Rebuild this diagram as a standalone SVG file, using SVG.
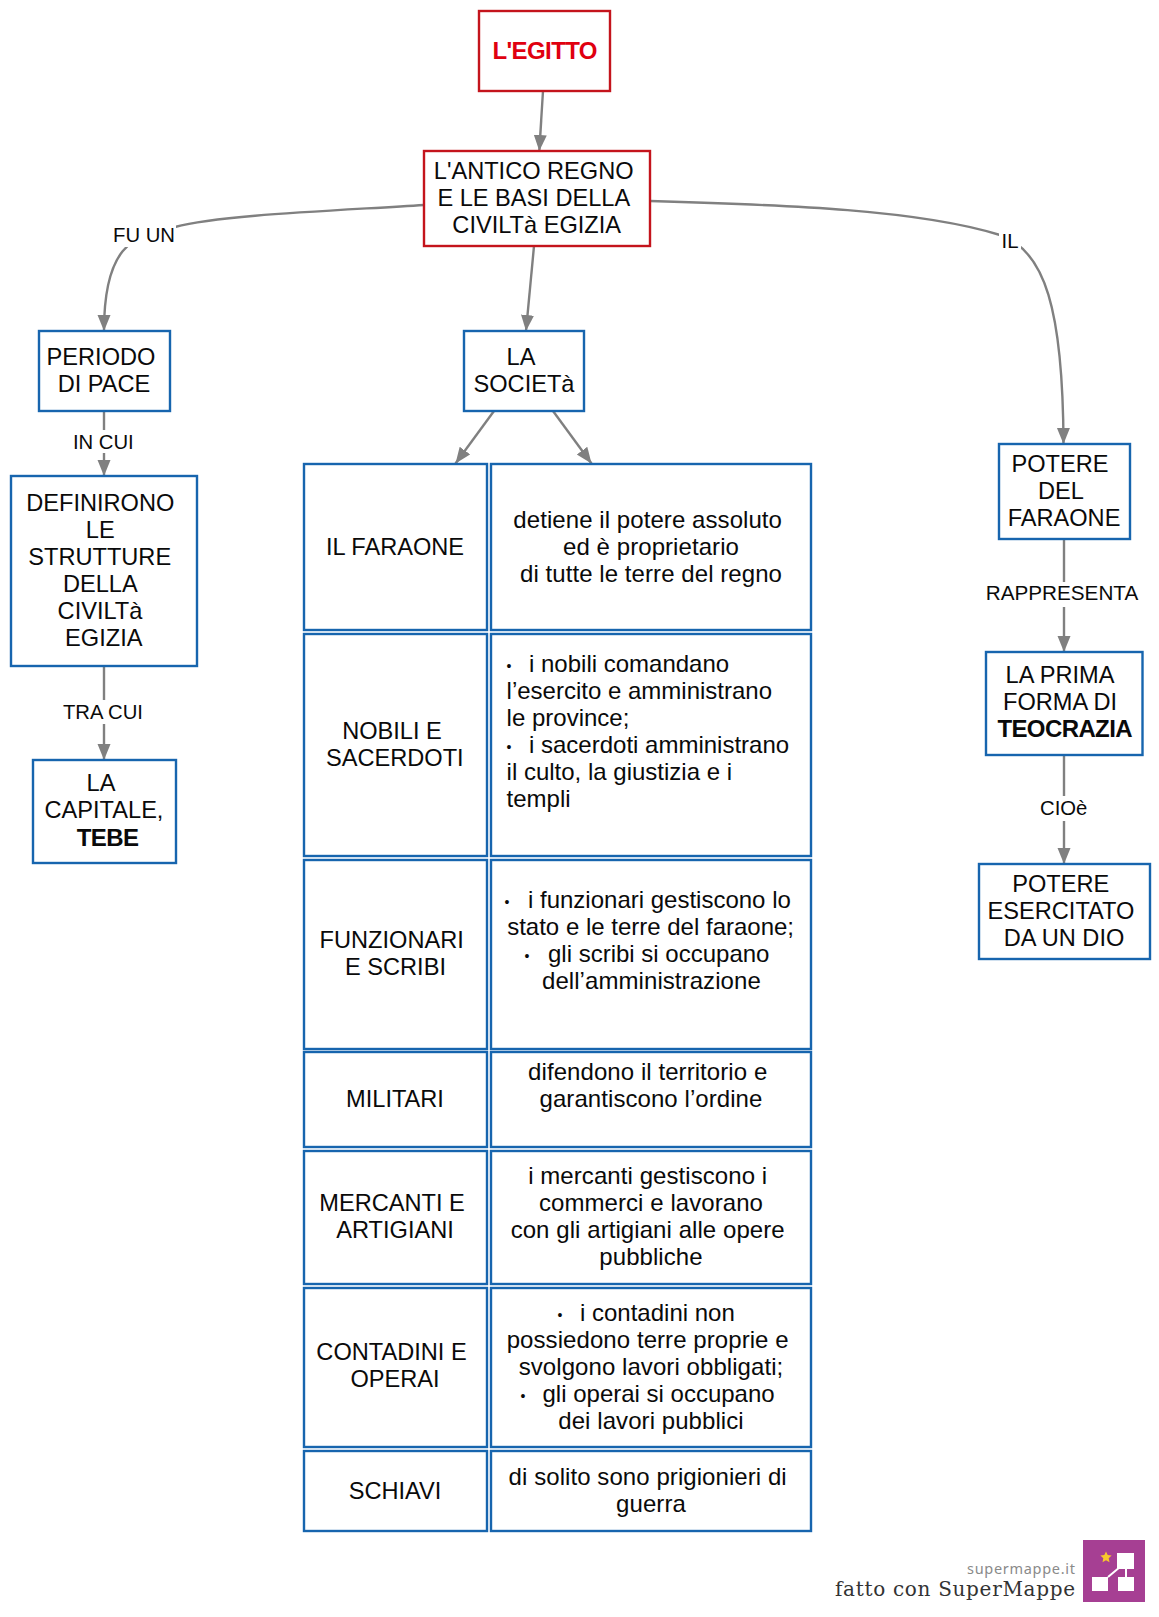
<svg xmlns="http://www.w3.org/2000/svg" width="1159" height="1617" viewBox="0 0 1159 1617">
<style>
text{font-family:"Liberation Sans",Arial,sans-serif;font-size:23.6px;fill:#0a0a0a;text-anchor:middle}
.d text{font-size:24px;letter-spacing:.07px}
.b{font-weight:bold;font-size:24px;letter-spacing:-.6px}
.d .l{text-anchor:start;letter-spacing:0}
.lb{font-size:20.3px}
.red{fill:#fff;stroke:#c4141c;stroke-width:2.4}
.blue{fill:#fff;stroke:#1765ae;stroke-width:2.4}
.c{fill:none;stroke:#808080;stroke-width:2.4;marker-end:url(#a)}
.bg{fill:#fff}
.d .dot{font-size:14px;letter-spacing:0}
</style>
<defs>
<marker id="a" markerUnits="userSpaceOnUse" markerWidth="17" markerHeight="15" refX="16" refY="7" orient="auto"><path d="M0 .5L16 7L0 13.500Z" fill="#808080"/></marker>
</defs>
<rect width="1159" height="1617" fill="#fff"/>
<g id="connectors">
<path class="c" d="M543 91L539.300 151"/>
<path class="c" d="M534 246L526 331"/>
<path class="c" d="M424 205C330 211 220 215 175 227C130 234 104 250 104 331"/>
<path class="c" d="M650 201C790 205 920 210 1000 235C1045 250 1063 310 1063.500 444"/>
<path class="c" d="M494 411L455.500 463.500"/>
<path class="c" d="M553 411L591.500 463.500"/>
<path class="c" d="M104 411V476"/>
<path class="c" d="M104 666V760"/>
<path class="c" d="M1064 540V652"/>
<path class="c" d="M1064 755V864"/>
<g id="connector-labels">
<rect class="bg" x="112" y="225" width="64" height="22"/><text class="lb" x="144" y="242">FU UN</text>
<rect class="bg" x="999" y="232" width="22" height="22"/><text class="lb" x="1010" y="248">IL</text>
<rect class="bg" x="72" y="430" width="64" height="23"/><text class="lb" x="103.300" y="449">IN CUI</text>
<rect class="bg" x="60" y="700" width="86" height="24"/><text class="lb" x="103" y="719">TRA CUI</text>
<rect class="bg" x="984" y="582" width="156" height="25"/><text class="lb" x="1062" y="600" style="font-size:20.700px">RAPPRESENTA</text>
<rect class="bg" x="1036" y="796" width="56" height="25"/><text class="lb" x="1063.700" y="815">CIOè</text>
</g>
</g>
<g id="n-egitto"><rect class="red" x="479" y="11" width="131" height="80"/><text class="b" x="544.700" y="59" style="fill:#e0000f">L'EGITTO</text></g>
<g id="n-antico"><rect class="red" x="424" y="151" width="226" height="95"/><text x="533.700" y="179">L'ANTICO REGNO</text><text x="533.800" y="206">E LE BASI DELLA</text><text x="536.700" y="233">CIVILTà EGIZIA</text></g>
<g id="n-periodo"><rect class="blue" x="39" y="331" width="131" height="80"/><text x="101" y="365">PERIODO</text><text x="104" y="392">DI PACE</text></g>
<g id="n-societa"><rect class="blue" x="464" y="331" width="120" height="80"/><text x="521" y="365">LA</text><text x="524" y="392">SOCIETà</text></g>
<g id="n-definirono"><rect class="blue" x="11" y="476" width="186" height="190"/><text x="100.300" y="511">DEFINIRONO</text><text x="100.300" y="538">LE</text><text x="99.700" y="565">STRUTTURE</text><text x="100.300" y="592">DELLA</text><text x="100" y="619">CIVILTà</text><text x="103.800" y="646">EGIZIA</text></g>
<g id="n-capitale"><rect class="blue" x="33" y="760" width="143" height="103"/><text x="101" y="791">LA</text><text x="104" y="818">CAPITALE,</text><text class="b" x="107.500" y="846">TEBE</text></g>
<g id="n-potere"><rect class="blue" x="999" y="444" width="131" height="95"/><text x="1060" y="471.500">POTERE</text><text x="1061" y="498.500">DEL</text><text x="1064" y="525.500">FARAONE</text></g>
<g id="n-prima"><rect class="blue" x="986" y="652" width="156.500" height="103"/><text x="1060" y="683">LA PRIMA</text><text x="1060" y="710">FORMA DI</text><text class="b" x="1064.700" y="737">TEOCRAZIA</text></g>
<g id="n-esercitato"><rect class="blue" x="979" y="864" width="171" height="95"/><text x="1060.800" y="892">POTERE</text><text x="1061" y="919">ESERCITATO</text><text x="1064" y="946">DA UN DIO</text></g>
<g id="n-faraone"><rect class="blue" x="304" y="464" width="183" height="166"/><text x="395" y="555">IL FARAONE</text></g>
<g id="n-faraone-d" class="d"><rect class="blue" x="491" y="464" width="320" height="166"/><text x="647.700" y="528">detiene il potere assoluto</text><text x="651" y="555">ed è proprietario</text><text x="651" y="582">di tutte le terre del regno</text></g>
<g id="n-nobili"><rect class="blue" x="304" y="634" width="183" height="222"/><text x="392" y="738.500">NOBILI E</text><text x="394.800" y="766">SACERDOTI</text></g>
<g id="n-nobili-d" class="d"><rect class="blue" x="491" y="634" width="320" height="222"/><text class="dot" x="509" y="671">•</text><text class="l" x="529" y="672">i nobili comandano</text><text class="l" x="506.600" y="699">l’esercito e amministrano</text><text class="l" x="506.600" y="726">le province;</text><text class="dot" x="509" y="752">•</text><text class="l" x="529" y="753">i sacerdoti amministrano</text><text class="l" x="506.600" y="780">il culto, la giustizia e i</text><text class="l" x="506.600" y="807">templi</text></g>
<g id="n-funzionari"><rect class="blue" x="304" y="860" width="183" height="189"/><text x="391.700" y="948">FUNZIONARI</text><text x="395.500" y="975">E SCRIBI</text></g>
<g id="n-funzionari-d" class="d"><rect class="blue" x="491" y="860" width="320" height="189"/><text class="dot" x="507" y="907">•</text><text class="l" x="528" y="908">i funzionari gestiscono lo</text><text class="l" x="507.200" y="934.500">stato e le terre del faraone;</text><text class="dot" x="527" y="960.500">•</text><text class="l" x="548" y="961.500">gli scribi si occupano</text><text x="651.400" y="989">dell’amministrazione</text></g>
<g id="n-militari"><rect class="blue" x="304" y="1052" width="183" height="95"/><text x="395" y="1107">MILITARI</text></g>
<g id="n-militari-d" class="d"><rect class="blue" x="491" y="1052" width="320" height="95"/><text x="647.700" y="1080">difendono il territorio e</text><text x="651" y="1107">garantiscono l’ordine</text></g>
<g id="n-mercanti"><rect class="blue" x="304" y="1151" width="183" height="133"/><text x="392" y="1211">MERCANTI E</text><text x="395" y="1238">ARTIGIANI</text></g>
<g id="n-mercanti-d" class="d"><rect class="blue" x="491" y="1151" width="320" height="133"/><text x="647.700" y="1184">i mercanti gestiscono i</text><text x="651" y="1211">commerci e lavorano</text><text x="647.700" y="1238">con gli artigiani alle opere</text><text x="651" y="1265">pubbliche</text></g>
<g id="n-contadini"><rect class="blue" x="304" y="1288" width="183" height="159"/><text x="391.500" y="1360">CONTADINI E</text><text x="395" y="1387">OPERAI</text></g>
<g id="n-contadini-d" class="d"><rect class="blue" x="491" y="1288" width="320" height="159"/><text class="dot" x="560" y="1320">•</text><text class="l" x="580" y="1321">i contadini non</text><text x="647.700" y="1348">possiedono terre proprie e</text><text x="651" y="1375">svolgono lavori obbligati;</text><text class="dot" x="523" y="1401">•</text><text class="l" x="542.500" y="1402">gli operai si occupano</text><text x="651" y="1429">dei lavori pubblici</text></g>
<g id="n-schiavi"><rect class="blue" x="304" y="1451" width="183" height="80"/><text x="395" y="1498.500">SCHIAVI</text></g>
<g id="n-schiavi-d" class="d"><rect class="blue" x="491" y="1451" width="320" height="80"/><text x="647.700" y="1485">di solito sono prigionieri di</text><text x="651" y="1512">guerra</text></g>
<g id="logo">
<text x="1075" y="1574" textLength="108" style="font-family:'Noto Sans',sans-serif;font-size:14.500px;fill:#8a8a8a;text-anchor:end">supermappe.it</text>
<text x="1075" y="1596" textLength="240" style="font-family:'DejaVu Serif',serif;font-size:20px;fill:#333;text-anchor:end">fatto con SuperMappe</text>
<rect x="1083" y="1540" width="62" height="62" fill="#a63f93"/>
<path d="M1106 1551.500l1.700 3.600 3.900.500-2.900 2.700.8 3.900-3.500-2-3.500 2 .8-3.900-2.900-2.700 3.900-.5z" fill="#f7c72c"/>
<path d="M1117 1553h17v16h-17zM1092 1577h16v14h-16zM1118 1577h16v14h-16z" fill="#fff"/>
<path d="M1108 1577L1120 1567M1126 1569V1577" stroke="#fff" stroke-width="2" fill="none"/>
</g>
</svg>
